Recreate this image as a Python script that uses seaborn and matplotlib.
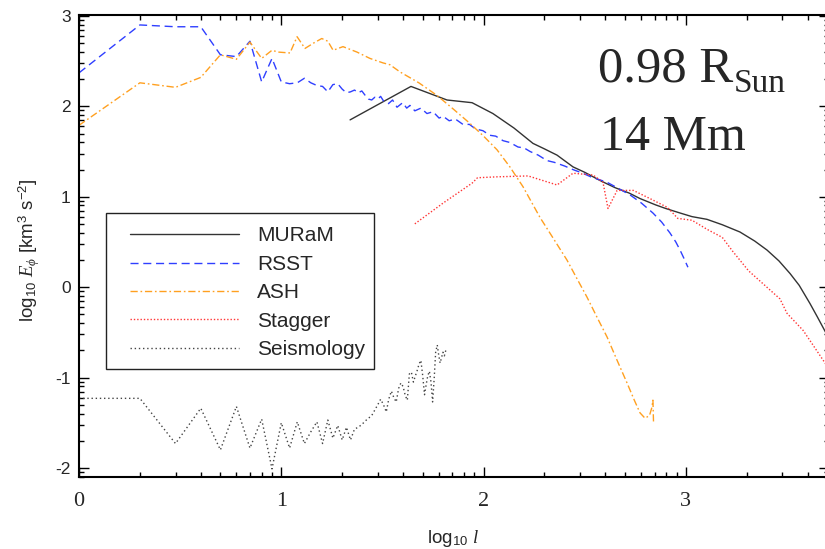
import numpy as np
import pandas as pd
import matplotlib
matplotlib.use("Agg")
import matplotlib.pyplot as plt
from matplotlib.patches import Rectangle
from matplotlib.ticker import FixedLocator
import seaborn as sns

# ---------------- data (log10 l, log10 E) ----------------
muram_x = [1.34, 1.641, 1.819, 1.943, 2.046, 2.15, 2.244, 2.30, 2.363, 2.442, 2.50, 2.575,
           2.65, 2.72, 2.773, 2.85, 2.90, 2.971, 3.03, 3.104, 3.18, 3.267, 3.34, 3.401,
           3.46, 3.515, 3.56, 3.613, 3.65, 3.71]
muram_y = [1.85, 2.22, 2.07, 2.04, 1.92, 1.76, 1.59, 1.53, 1.46, 1.33, 1.27, 1.18,
           1.10, 1.04, 0.98, 0.91, 0.87, 0.82, 0.78, 0.75, 0.69, 0.61, 0.51, 0.41,
           0.29, 0.15, 0.02, -0.18, -0.33, -0.58]

rsst_x = [0.0, 0.301, 0.477, 0.602, 0.699, 0.778, 0.845, 0.903, 0.954, 1.0, 1.041, 1.079,
          1.114, 1.146, 1.176, 1.204, 1.23, 1.255, 1.279, 1.301, 1.322, 1.342, 1.362, 1.38,
          1.398, 1.415, 1.431, 1.447, 1.462, 1.477, 1.491, 1.505, 1.53, 1.55, 1.572, 1.60,
          1.62, 1.636, 1.66, 1.69, 1.72, 1.75, 1.78, 1.80, 1.83, 1.86, 1.898, 1.93, 1.96,
          1.997, 2.03, 2.06, 2.096, 2.13, 2.17, 2.20, 2.23, 2.27, 2.313, 2.35, 2.40, 2.442,
          2.49, 2.53, 2.57, 2.61, 2.66, 2.724, 2.78, 2.837, 2.88, 2.921, 2.95, 2.971, 2.99, 3.01]
rsst_y = [2.37, 2.90, 2.88, 2.88, 2.57, 2.55, 2.72, 2.27, 2.53, 2.27, 2.25, 2.26,
          2.31, 2.26, 2.23, 2.22, 2.16, 2.24, 2.25, 2.19, 2.15, 2.16, 2.18, 2.15,
          2.17, 2.12, 2.08, 2.07, 2.10, 2.08, 2.11, 2.06, 2.03, 2.07, 1.99, 2.04,
          1.98, 2.01, 1.95, 1.98, 1.92, 1.94, 1.87, 1.89, 1.84, 1.86, 1.80, 1.80, 1.75,
          1.73, 1.68, 1.67, 1.62, 1.60, 1.55, 1.54, 1.50, 1.46, 1.40, 1.38, 1.34, 1.30,
          1.26, 1.22, 1.19, 1.16, 1.10, 1.02, 0.93, 0.82, 0.72, 0.60, 0.50, 0.41, 0.32, 0.22]

ash_x = [0.0, 0.301, 0.477, 0.602, 0.699, 0.778, 0.845, 0.903, 0.954, 0.984, 1.043, 1.078,
         1.117, 1.16, 1.20, 1.23, 1.256, 1.305, 1.374, 1.438, 1.503, 1.537, 1.587, 1.68,
         1.77, 1.85, 1.933, 2.0, 2.066, 2.13, 2.195, 2.279, 2.35, 2.412, 2.46, 2.511, 2.56,
         2.61, 2.66, 2.709, 2.745, 2.773, 2.798, 2.82, 2.832, 2.837, 2.840]
ash_y = [1.79, 2.26, 2.21, 2.32, 2.57, 2.52, 2.71, 2.53, 2.62, 2.60, 2.59, 2.77,
         2.64, 2.70, 2.75, 2.72, 2.62, 2.66, 2.60, 2.53, 2.48, 2.46, 2.38, 2.26,
         2.12, 1.97, 1.81, 1.67, 1.52, 1.33, 1.11, 0.77, 0.52, 0.30, 0.10, -0.11, -0.33,
         -0.55, -0.81, -1.06, -1.25, -1.39, -1.45, -1.42, -1.33, -1.25, -1.50]

stagger_x = [1.66, 1.80, 1.943, 1.97, 2.066, 2.22, 2.363, 2.442, 2.541, 2.59, 2.615, 2.66,
             2.74, 2.84, 2.91, 2.96, 3.03, 3.104, 3.18, 3.23, 3.31, 3.40, 3.465, 3.50,
             3.58, 3.70]
stagger_y = [0.70, 0.93, 1.15, 1.21, 1.22, 1.23, 1.13, 1.26, 1.24, 1.16, 0.87, 1.07,
             1.07, 0.96, 0.88, 0.76, 0.74, 0.64, 0.55, 0.40, 0.18, 0.0, -0.13, -0.29,
             -0.48, -0.88]

seis_x = [0.0, 0.301, 0.477, 0.602, 0.699, 0.778, 0.845, 0.903, 0.954, 1.0, 1.041, 1.079,
          1.114, 1.146, 1.176, 1.204, 1.23, 1.255, 1.279, 1.301, 1.322, 1.342, 1.362, 1.38,
          1.398, 1.415, 1.431, 1.447, 1.462, 1.477, 1.491, 1.505, 1.519, 1.531, 1.544, 1.556,
          1.568, 1.58, 1.591, 1.602, 1.613, 1.623, 1.633, 1.643, 1.653, 1.663, 1.672, 1.681,
          1.69, 1.699, 1.708, 1.716, 1.724, 1.732, 1.74, 1.748, 1.756, 1.763, 1.771, 1.778,
          1.785, 1.792, 1.799, 1.806, 1.813]
seis_y = [-1.23, -1.23, -1.73, -1.34, -1.80, -1.32, -1.78, -1.46, -2.01, -1.50, -1.78, -1.49,
          -1.73, -1.60, -1.49, -1.73, -1.47, -1.67, -1.53, -1.69, -1.55, -1.69, -1.57, -1.55,
          -1.52, -1.48, -1.45, -1.42, -1.36, -1.30, -1.24, -1.30, -1.38, -1.24, -1.15, -1.22,
          -1.27, -1.12, -1.06, -1.10, -1.20, -1.25, -0.96, -0.94, -1.05, -0.98, -0.92, -0.85,
          -0.81, -0.98, -1.19, -1.08, -0.98, -0.93, -1.05, -1.27, -1.00, -0.72, -0.64, -0.75,
          -0.84, -0.78, -0.72, -0.76, -0.70]

series_names = ["MURaM", "RSST", "ASH", "Stagger", "Seismology"]
x_ticks = [0, 1, 2, 3]
y_ticks = [-2, -1, 0, 1, 2, 3]
x_ticklabels = ["0", "1", "2", "3"]
y_ticklabels = ["-2", "-1", "0", "1", "2", "3"]

# ---------------- style ----------------
sns.set_style("ticks")
plt.rcParams["font.family"] = ["Liberation Sans", "DejaVu Sans"]
plt.rcParams["mathtext.fontset"] = "custom"
plt.rcParams["mathtext.rm"] = "Liberation Serif"
plt.rcParams["mathtext.it"] = "Liberation Serif:italic"
plt.rcParams["mathtext.sf"] = "Liberation Sans"
plt.rcParams["lines.scale_dashes"] = False

W, H = 825, 549
fig = plt.figure(figsize=(W / 100, H / 100), dpi=100)
ax = fig.add_axes([79 / W, 1 - 477 / H, 750 / W, 462 / H])

styles = {
    "MURaM": dict(color="#333333", dashes=None),
    "RSST": dict(color="#2f3fff", dashes=(5.8, 3.4)),
    "ASH": dict(color="#ffa020", dashes=(5.2, 2.0, 1.2, 2.0)),
    "Stagger": dict(color="#ff3535", dashes=(1.0, 1.4)),
    "Seismology": dict(color="#444444", dashes=(1.0, 2.0)),
}
data = {
    "MURaM": (muram_x, muram_y),
    "RSST": (rsst_x, rsst_y),
    "ASH": (ash_x, ash_y),
    "Stagger": (stagger_x, stagger_y),
    "Seismology": (seis_x, seis_y),
}

handles = []
for name in series_names:
    xs, ys = data[name]
    df = pd.DataFrame({"x": xs, "y": ys})
    sns.lineplot(data=df, x="x", y="y", ax=ax, color=styles[name]["color"],
                 estimator=None, sort=False, linewidth=1.0)
    ln = ax.lines[-1]
    if styles[name]["dashes"] is not None:
        ln.set_dashes(styles[name]["dashes"])
    ln.set_label(name)
    handles.append(ln)

ax.set_xlim(0, 750 / 202.3)
ax.set_ylim(-2.10, 3.01)

ax.set_xticks(x_ticks)
ax.set_xticklabels(x_ticklabels, fontfamily="Liberation Serif", fontsize=16)
ax.set_yticks(y_ticks)
ax.set_yticklabels(y_ticklabels, fontsize=12.5)

xminor = [n + np.log10(k) for n in range(0, 4) for k in range(2, 10)]
yminor = [n + np.log10(k) for n in range(-3, 4) for k in range(2, 10)]
ax.xaxis.set_minor_locator(FixedLocator(xminor))
ax.yaxis.set_minor_locator(FixedLocator(yminor))

ax.tick_params(which="both", direction="in", top=True, right=True, color="black", width=1.0)
ax.tick_params(which="major", length=7.0)
ax.tick_params(which="minor", length=3.6)
ax.tick_params(axis="x", which="major", pad=11)
ax.tick_params(axis="y", which="major", pad=6)
for s in ax.spines.values():
    s.set_linewidth(1.5)
    s.set_color("black")

ax.set_xlabel(r"log$_{\mathsf{10}}$ $l$", fontsize=13.5)
ax.xaxis.set_label_coords((453 - 79) / 750, (477 - 528) / 462)
ax.set_ylabel(r"log$_{\mathsf{10}}$ $E_\phi$ [km$^{\mathsf{3}}$ s$^{\mathsf{-2}}$]", fontsize=13.5)
ax.yaxis.set_label_coords((42 - 79) / 750, (477 - 250) / 462)

# legend frame + legend
frame = Rectangle((106 / W, 1 - 369 / H), (374 - 106) / W, (369 - 213) / H,
                  transform=fig.transFigure, facecolor="white",
                  edgecolor="#222222", linewidth=1.0, zorder=4, clip_on=False)
ax.add_patch(frame)
leg = ax.legend(handles=handles, labels=series_names, frameon=False, loc="upper left",
                bbox_to_anchor=(120 / W, 1 - 216 / H), bbox_transform=fig.transFigure,
                borderpad=0, handlelength=5.2, handletextpad=0.87, labelspacing=0.45,
                prop={"family": "Liberation Sans", "size": 15})
leg.set_zorder(6)

# annotation
fig.text(598 / W, 1 - 82 / H, "0.98 R", fontsize=36.5,
         fontfamily="Liberation Serif", va="baseline", ha="left")
fig.text(734 / W, 1 - 92 / H, "Sun", fontsize=24,
         fontfamily="Liberation Serif", va="baseline", ha="left")
fig.text(600 / W, 1 - 150 / H, "14 Mm", fontsize=36,
         fontfamily="Liberation Serif", va="baseline", ha="left")

fig.savefig("out.png", dpi=100)
